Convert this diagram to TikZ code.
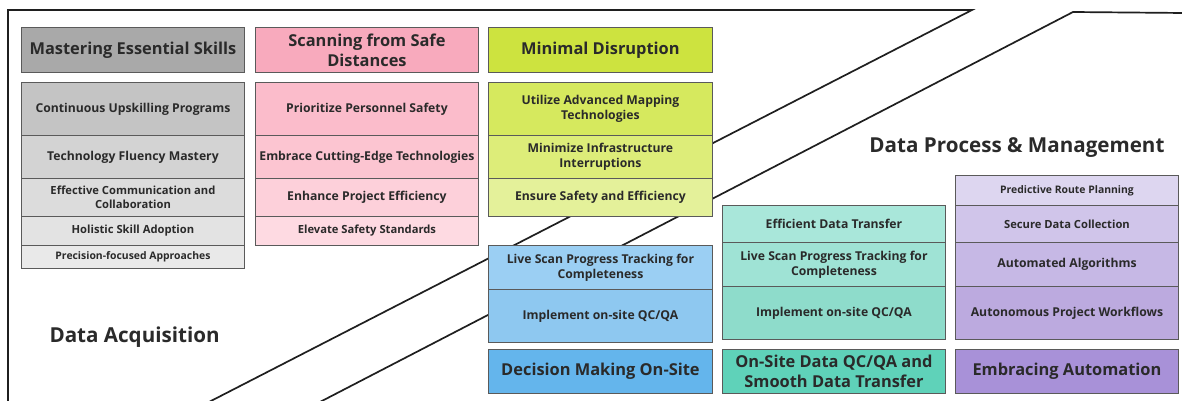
\documentclass[tikz,border=0pt]{standalone}
\usepackage{fontspec}
\setmainfont{Open Sans}
\definecolor{txt}{HTML}{2A2A2A}
\definecolor{bord}{HTML}{5A5A5A}
\definecolor{gT}{HTML}{A9A9A9}
\definecolor{gA}{HTML}{C4C4C4}
\definecolor{gB}{HTML}{D3D3D3}
\definecolor{gC}{HTML}{DCDCDC}
\definecolor{gD}{HTML}{E3E3E3}
\definecolor{gE}{HTML}{E9E9E9}
\definecolor{pT}{HTML}{F8AABD}
\definecolor{pA}{HTML}{FBBCCB}
\definecolor{pB}{HTML}{FCC5D1}
\definecolor{pC}{HTML}{FDD0DA}
\definecolor{pD}{HTML}{FEDAE2}
\definecolor{lT}{HTML}{CDE33F}
\definecolor{lA}{HTML}{D6E95E}
\definecolor{lB}{HTML}{DDED79}
\definecolor{lC}{HTML}{E4F19A}
\definecolor{bT}{HTML}{64B5EC}
\definecolor{bA}{HTML}{9BCFF3}
\definecolor{bB}{HTML}{8EC8F0}
\definecolor{tT}{HTML}{5FD2B9}
\definecolor{tA}{HTML}{A9E7DA}
\definecolor{tB}{HTML}{9FE3D5}
\definecolor{tC}{HTML}{8EDCCB}
\definecolor{vT}{HTML}{A891D8}
\definecolor{vA}{HTML}{DDD6F0}
\definecolor{vB}{HTML}{D0C5EA}
\definecolor{vC}{HTML}{C6B8E5}
\definecolor{vD}{HTML}{BCAADF}
\begin{document}
\begin{tikzpicture}[x=1pt,y=-1pt,
  frameline/.style={draw=black!88, line width=1.7pt, line join=miter},
  cell/.style={draw=bord, line width=0.9pt, anchor=north west, align=center,
    inner sep=0pt, text=txt, minimum width=223pt},
  itemfont/.style={font=\bfseries\fontsize{12.2}{15}\selectfont},
  smallfont/.style={font=\bfseries\fontsize{11.2}{13.5}\selectfont},
  tinyfont/.style={font=\bfseries\fontsize{10.4}{12.5}\selectfont},
  titlefont/.style={font=\bfseries\fontsize{16.4}{20}\selectfont},
  headfont/.style={font=\bfseries\fontsize{20.6}{24}\selectfont, text=txt}]
\useasboundingbox (0,0) rectangle (1182,401);
\fill[white] (0,0) rectangle (1182,401);
% frame lines
\coordinate (f0) at (8,403);
\coordinate (f1) at (8,10);
\coordinate (f2) at (972,10);
\coordinate (f3) at (207,403);
\coordinate (s0) at (1184,13);
\coordinate (s1) at (1073,12);
\coordinate (s2) at (318,403);
\draw[frameline] (f0) -- (f1) -- (f2) -- (f3);
\draw[frameline] (s0) -- (s1) -- (s2);
% headings
\node[headfont, anchor=west] (acq) at (46,337) {Data Acquisition};
\node[headfont, anchor=east] (proc) at (1168,148) {Data Process \& Management};
% gray column
\node[cell, titlefont, fill=gT, minimum height=45pt] (gt) at (21,27) {Mastering Essential Skills};
\node[cell, itemfont, fill=gA, minimum height=53pt] (g1) at (21,82) {Continuous Upskilling Programs};
\node[cell, itemfont, fill=gB, minimum height=43pt] (g2) at (21,135) {Technology Fluency Mastery};
\node[cell, smallfont, fill=gC, minimum height=38pt] (g3) at (21,178) {Effective Communication and\\Collaboration};
\node[cell, smallfont, fill=gD, minimum height=29pt] (g4) at (21,216) {Holistic Skill Adoption};
\node[cell, tinyfont, fill=gE, minimum height=23pt] (g5) at (21,245) {Precision-focused Approaches};
% pink column
\node[cell, titlefont, fill=pT, minimum height=45pt] (pt) at (255,27) {Scanning from Safe\\Distances};
\node[cell, itemfont, fill=pA, minimum height=53pt] (p1) at (255,82) {Prioritize Personnel Safety};
\node[cell, itemfont, fill=pB, minimum height=43pt] (p2) at (255,135) {Embrace Cutting-Edge Technologies};
\node[cell, itemfont, fill=pC, minimum height=38pt] (p3) at (255,178) {Enhance Project Efficiency};
\node[cell, smallfont, fill=pD, minimum height=29pt] (p4) at (255,216) {Elevate Safety Standards};
% green column
\node[cell, titlefont, fill=lT, minimum height=45pt, minimum width=224pt] (lt) at (488,27) {Minimal Disruption};
\node[cell, itemfont, fill=lA, minimum height=53pt, minimum width=224pt] (l1) at (488,82) {Utilize Advanced Mapping\\Technologies};
\node[cell, itemfont, fill=lB, minimum height=43pt, minimum width=224pt] (l2) at (488,135) {Minimize Infrastructure\\Interruptions};
\node[cell, itemfont, fill=lC, minimum height=38pt, minimum width=224pt] (l3) at (488,178) {Ensure Safety and Efficiency};
% blue column
\node[cell, itemfont, fill=bA, minimum height=44pt, minimum width=224pt] (b1) at (488,245) {Live Scan Progress Tracking for\\Completeness};
\node[cell, itemfont, fill=bB, minimum height=53pt, minimum width=224pt] (b2) at (488,289) {Implement on-site QC/QA};
\node[cell, titlefont, fill=bT, minimum height=44pt, minimum width=224pt] (bt) at (488,349) {Decision Making On-Site};
% teal column
\node[cell, itemfont, fill=tA, minimum height=37pt] (t1) at (722,205) {Efficient Data Transfer};
\node[cell, itemfont, fill=tB, minimum height=44pt] (t2) at (722,242) {Live Scan Progress Tracking for\\Completeness};
\node[cell, itemfont, fill=tC, minimum height=53pt] (t3) at (722,286) {Implement on-site QC/QA};
\node[cell, titlefont, fill=tT, minimum height=44pt] (tt) at (722,349) {On-Site Data QC/QA and\\Smooth Data Transfer};
% purple column
\node[cell, tinyfont, fill=vA, minimum height=30pt] (v1) at (955,175) {Predictive Route Planning};
\node[cell, smallfont, fill=vB, minimum height=37pt] (v2) at (955,205) {Secure Data Collection};
\node[cell, itemfont, fill=vC, minimum height=44pt] (v3) at (955,242) {Automated Algorithms};
\node[cell, itemfont, fill=vD, minimum height=53pt] (v4) at (955,286) {Autonomous Project Workflows};
\node[cell, titlefont, fill=vT, minimum height=44pt] (vt) at (955,349) {Embracing Automation};
\end{tikzpicture}
\end{document}
